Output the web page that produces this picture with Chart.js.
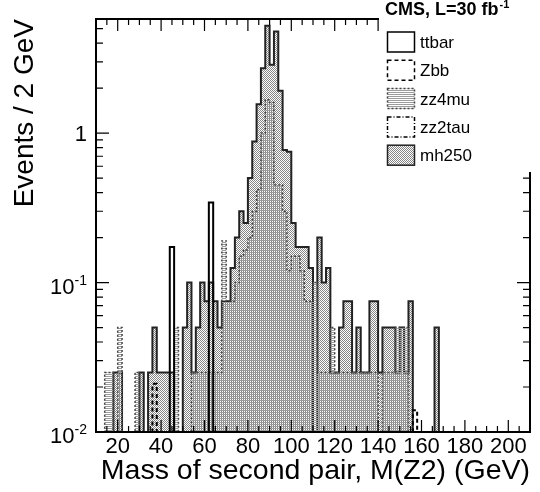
<!DOCTYPE html>
<html>
<head>
<meta charset="utf-8">
<script src="https://cdn.jsdelivr.net/npm/chart.js@4.4.0/dist/chart.umd.min.js"></script>
<style>
  html, body { margin: 0; padding: 0; background: #fff; }
  #wrap { width: 540px; height: 492px; }
</style>
</head>
<body>
<div id="wrap"><canvas id="massChart" width="540" height="492"></canvas></div>
<script>
// binning: 100 bins of 2 GeV from 10 to 210 GeV
const binLow = 10;
const binWidth = 2;
const xTickLabels = [20, 40, 60, 80, 100, 120, 140, 160, 180, 200];
const yDecades = [0.01, 0.1, 1];
const yMin = 0.01;
const yMax = 5.8;

// events per bin, one row = 10 bins = 20 GeV
const ttbar = [
  0, 0, 0, 0, 0, 0, 0, 0, 0, 0,                 // 10-28
  0, 0, 0, 0, 0, 0, 0, 0.173, 0, 0,             // 30-48
  0, 0, 0, 0, 0, 0, 0.343, 0, 0, 0,             // 50-68
  0, 0, 0, 0, 0, 0, 0, 0, 0, 0,                 // 70-88
  0, 0, 0, 0, 0, 0, 0, 0, 0, 0,                 // 90-108
  0, 0, 0, 0, 0, 0, 0, 0, 0, 0,                 // 110-128
  0, 0, 0, 0, 0, 0, 0, 0, 0, 0,                 // 130-148
  0, 0, 0, 0, 0, 0, 0, 0, 0, 0,                 // 150-168
  0, 0, 0, 0, 0, 0, 0, 0, 0, 0,                 // 170-188
  0, 0, 0, 0, 0, 0, 0, 0, 0, 0                  // 190-208
];
const zbb = [
  0, 0, 0, 0, 0, 0, 0, 0, 0, 0,
  0, 0, 0, 0.021, 0, 0, 0, 0, 0, 0,
  0, 0, 0, 0, 0, 0, 0, 0, 0, 0,
  0, 0, 0, 0, 0, 0, 0, 0, 0, 0,
  0, 0, 0, 0, 0, 0, 0, 0, 0, 0,
  0, 0, 0, 0, 0, 0, 0, 0, 0, 0,
  0, 0, 0, 0, 0, 0, 0, 0, 0, 0,
  0, 0, 0, 0.014, 0, 0, 0, 0, 0, 0,
  0, 0, 0, 0, 0, 0, 0, 0, 0, 0,
  0, 0, 0, 0, 0, 0, 0, 0, 0, 0
];
const zz4mu = [
  0, 0, 0.025, 0.025, 0, 0.05, 0, 0, 0, 0.025,
  0, 0, 0, 0, 0, 0, 0, 0, 0.05, 0,
  0, 0, 0.025, 0.025, 0.025, 0.025, 0.025, 0.025, 0.025, 0.19,
  0.075, 0.075, 0.1, 0.15, 0.165, 0.2, 0.3, 0.42, 1.0, 1.67,
  1.6, 0.45, 0.45, 0.3, 0.12, 0.15, 0.15, 0.12, 0.075, 0.075,
  0.1, 0.025, 0.025, 0.025, 0.05, 0.025, 0.025, 0.025, 0.025, 0.025,
  0.025, 0.025, 0.025, 0.025, 0.025, 0, 0.025, 0.025, 0.025, 0.05,
  0.05, 0.05, 0, 0, 0, 0, 0, 0, 0, 0,
  0, 0, 0, 0, 0, 0, 0, 0, 0, 0,
  0, 0, 0, 0, 0, 0, 0, 0, 0, 0
];
const zz2tau = [
  0, 0, 0, 0, 0, 0, 0, 0, 0, 0,
  0, 0, 0, 0, 0, 0, 0, 0, 0, 0,
  0, 0, 0, 0, 0, 0, 0, 0, 0, 0,
  0, 0, 0, 0, 0, 0, 0, 0, 0, 0,
  0, 0, 0, 0, 0, 0, 0, 0, 0, 0,
  0, 0, 0, 0, 0, 0, 0, 0, 0, 0,
  0, 0, 0, 0, 0, 0, 0, 0, 0, 0,
  0, 0, 0, 0, 0, 0, 0, 0, 0, 0,
  0, 0, 0, 0, 0, 0, 0, 0, 0, 0,
  0, 0, 0, 0, 0, 0, 0, 0, 0, 0
];
const mh250 = [
  0, 0, 0, 0, 0.025, 0.025, 0, 0, 0, 0,
  0.025, 0, 0.025, 0.05, 0.025, 0.025, 0.025, 0.025, 0, 0,
  0.05, 0.1, 0.025, 0.05, 0.1, 0.075, 0.1, 0.075, 0.05, 0.075,
  0.075, 0.125, 0.2, 0.3, 0.25, 0.5, 0.88, 1.56, 2.72, 5.22,
  2.87, 4.78, 1.92, 0.77, 0.75, 0.25, 0.173, 0.173, 0.173, 0.125,
  0, 0.2, 0.1, 0.125, 0.025, 0.025, 0.05, 0.075, 0.075, 0.025,
  0.05, 0.025, 0.025, 0.075, 0.075, 0.025, 0.05, 0.05, 0.05, 0.025,
  0.05, 0.025, 0.075, 0, 0, 0, 0, 0, 0.05, 0,
  0, 0, 0, 0, 0, 0, 0, 0, 0, 0,
  0, 0, 0, 0, 0, 0, 0, 0, 0, 0
];

const fontFamily = '"Liberation Sans", Arial, Helvetica, sans-serif';

// ROOT-like fill patterns
function makePattern(w, h, paint) {
  const c = document.createElement("canvas");
  c.width = w;
  c.height = h;
  const g = c.getContext("2d");
  paint(g);
  return g.createPattern(c, "repeat");
}
const dotFill = makePattern(2, 2, (g) => {
  g.fillStyle = "#858585";
  g.fillRect(0, 0, 1, 1);
  g.fillRect(1, 1, 1, 1);
});
const lineFill = makePattern(1, 2, (g) => {
  g.fillStyle = "#9c9c9c";
  g.fillRect(0, 0, 1, 1);
});

// histogram outline: one point per lower bin edge, closed at the upper edge
function histPoints(vals) {
  const pts = vals.map((v, i) => ({ x: binLow + i * binWidth, y: v > 0 ? v : yMin }));
  pts.push({ x: binLow + vals.length * binWidth, y: yMin });
  return pts;
}

function histDataset(label, vals, style) {
  return Object.assign({
    label: label,
    data: histPoints(vals),
    stepped: "before",
    pointRadius: 0,
    borderWidth: 2,
    borderColor: "#000",
    backgroundColor: "rgba(0,0,0,0)",
    fill: false,
  }, style);
}

const datasets = [
  histDataset("ttbar", ttbar, { order: 0 }),
  histDataset("Zbb", zbb, { order: 1, borderDash: [4, 3] }),
  histDataset("zz4mu", zz4mu, { order: 3, borderWidth: 1.5, borderColor: "#444", borderDash: [2, 2],
    backgroundColor: lineFill, fill: "start" }),
  histDataset("zz2tau", zz2tau, { order: 2, borderWidth: 1.5, borderDash: [4, 2, 1, 2] }),
  histDataset("mh250", mh250, { order: 4, borderColor: "#222", backgroundColor: dotFill, fill: "start" }),
];

// frame with inward ticks, y labels with exponents and the legend box
const rootFrame = {
  id: "rootFrame",
  afterDraw(chart) {
    const { ctx, chartArea: a } = chart;
    const xs = chart.scales.x;
    const ys = chart.scales.y;
    ctx.save();
    ctx.strokeStyle = "#000";
    ctx.lineWidth = 1.2;
    ctx.beginPath();
    for (let v = binLow; v <= xs.max; v += 5) {
      const px = xs.getPixelForValue(v);
      const len = v % 20 === 0 ? 12 : 6;
      ctx.moveTo(px, a.bottom);
      ctx.lineTo(px, a.bottom - len);
      ctx.moveTo(px, a.top);
      ctx.lineTo(px, a.top + len);
    }
    yDecades.forEach((d) => {
      for (let k = 1; k <= 9; k++) {
        const v = k * d;
        if (v > yMax) break;
        const py = ys.getPixelForValue(v);
        const len = k === 1 ? 13 : 7;
        ctx.moveTo(a.left, py);
        ctx.lineTo(a.left + len, py);
        ctx.moveTo(a.right, py);
        ctx.lineTo(a.right - len, py);
      }
    });
    ctx.stroke();
    ctx.lineWidth = 2;
    ctx.strokeRect(a.left, a.top, a.right - a.left, a.bottom - a.top);

    // y tick labels
    ctx.fillStyle = "#000";
    ctx.textAlign = "right";
    ctx.textBaseline = "alphabetic";
    const labelRight = a.left - 9;
    yDecades.forEach((d) => {
      const py = ys.getPixelForValue(d);
      const exp = Math.round(Math.log10(d));
      if (exp === 0) {
        ctx.font = "22px " + fontFamily;
        ctx.fillText("1", labelRight, py + 8);
      } else {
        const sup = String(exp);
        ctx.font = "14px " + fontFamily;
        const supW = ctx.measureText(sup).width;
        ctx.fillText(sup, labelRight, py + 2);
        ctx.font = "22px " + fontFamily;
        ctx.fillText("10", labelRight - supW, py + 11);
      }
    });

    // legend
    ctx.fillStyle = "#fff";
    ctx.fillRect(379, 0, 161, 172);
    ctx.fillStyle = "#000";
    ctx.textAlign = "left";
    ctx.font = "bold 18px " + fontFamily;
    const head = "CMS, L=30 fb";
    ctx.fillText(head, 385, 15);
    const headW = ctx.measureText(head).width;
    ctx.font = "bold 11px " + fontFamily;
    ctx.fillText("-1", 385 + headW + 1, 8);
    chart.data.datasets.forEach((ds, i) => {
      const top = 32 + i * 28.3;
      ctx.save();
      ctx.fillStyle = ds.fill ? ds.backgroundColor : "#fff";
      ctx.fillRect(387.5, top, 27, 20);
      ctx.strokeStyle = ds.borderColor;
      ctx.lineWidth = Math.min(ds.borderWidth, 1.5);
      ctx.setLineDash(ds.borderDash || []);
      ctx.strokeRect(387.5, top, 27, 20);
      ctx.restore();
      ctx.font = "17px " + fontFamily;
      ctx.fillText(ds.label, 420, top + 16);
    });
    ctx.restore();
  },
};

new Chart(document.getElementById("massChart"), {
  type: "line",
  data: { datasets: datasets },
  options: {
    responsive: false,
    animation: false,
    devicePixelRatio: 1,
    layout: { padding: { top: 19, right: 10, left: 0, bottom: 0 } },
    plugins: {
      legend: { display: false },
      tooltip: { enabled: false },
    },
    scales: {
      x: {
        type: "linear",
        min: binLow,
        max: 210,
        afterBuildTicks: (s) => { s.ticks = xTickLabels.map((v) => ({ value: v })); },
        afterFit: (s) => { s.height = 60; },
        grid: { display: false, drawTicks: false },
        border: { display: false },
        ticks: { color: "#000", font: { size: 22, family: fontFamily }, padding: 2, maxRotation: 0, autoSkip: false },
        title: {
          display: true,
          text: "Mass of second pair, M(Z2) (GeV)",
          align: "end",
          color: "#000",
          font: { size: 28.5, family: fontFamily },
          padding: { top: 0, bottom: 4 },
        },
      },
      y: {
        type: "logarithmic",
        min: yMin,
        max: yMax,
        afterFit: (s) => { s.width = 96; },
        grid: { display: false, drawTicks: false },
        border: { display: false },
        ticks: { display: false },
        title: {
          display: true,
          text: "Events / 2 GeV",
          align: "end",
          color: "#000",
          font: { size: 28, family: fontFamily },
          padding: { top: 8, bottom: 0 },
        },
      },
    },
  },
  plugins: [rootFrame],
});
</script>
</body>
</html>
